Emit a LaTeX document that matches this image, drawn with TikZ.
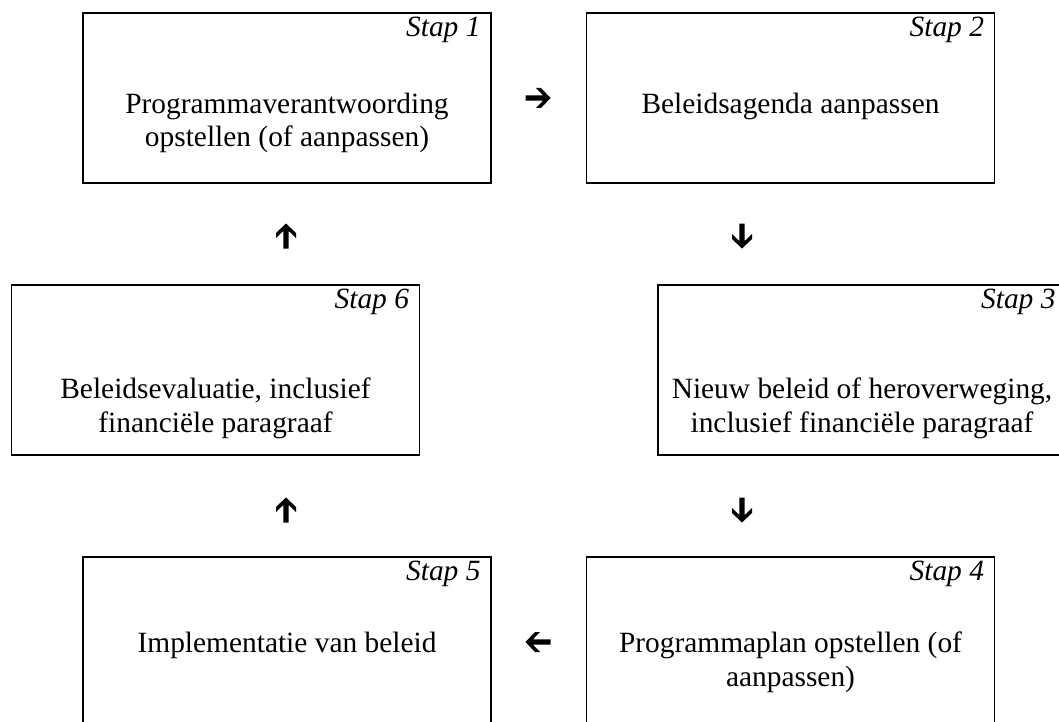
\documentclass[tikz,border=0pt]{standalone}
\usepackage{fontspec}
\setmainfont{Liberation Serif}
\begin{document}
\begin{tikzpicture}[x=0.5pt,y=-0.5pt,
  stepbox/.style={draw, line width=0.85pt, rectangle, minimum width=204pt, minimum height=85pt, inner sep=0pt},
  steplabel/.style={anchor=base east, inner sep=0pt, font=\fontsize{14.7}{17}\selectfont\itshape},
  maintext/.style={anchor=base, inner sep=0pt, font=\fontsize{14.7}{17}\selectfont},
  warrow/.pic={\fill (12.5,0) -- (3,10) -- (-2,10) -- (5,2.7) -- (-12.5,2.7) -- (-12.5,-2.7) -- (5,-2.7) -- (-2,-10) -- (3,-10) -- cycle;}
]
\useasboundingbox (0,0) rectangle (1059,722);
\clip (0,0) rectangle (1059,722);

% boxes
\node[stepbox] (s1) at (287,98) {};
\node[stepbox] (s2) at (790.5,98) {};
\node[stepbox] (s6) at (215.5,370) {};
\node[stepbox] (s3) at (862,370) {};
\node[stepbox] (s5) at (287,642) {};
\node[stepbox] (s4) at (790.5,642) {};

% step labels
\node[steplabel] (l1) at ([xshift=-5.5pt,yshift=-12pt]s1.north east) {Stap 1};
\node[steplabel] (l2) at ([xshift=-5.5pt,yshift=-12pt]s2.north east) {Stap 2};
\node[steplabel] (l6) at ([xshift=-5.5pt,yshift=-12pt]s6.north east) {Stap 6};
\node[steplabel] (l3) at ([xshift=-5.5pt,yshift=-12pt]s3.north east) {Stap 3};
\node[steplabel] (l5) at ([xshift=-5.5pt,yshift=-12pt]s5.north east) {Stap 5};
\node[steplabel] (l4) at ([xshift=-5.5pt,yshift=-12pt]s4.north east) {Stap 4};

% main texts
\node[maintext] (t1a) at (287,113) {Programmaverantwoording};
\node[maintext] (t1b) at (287,147) {opstellen (of aanpassen)};
\node[maintext] (t2a) at (790.5,113) {Beleidsagenda aanpassen};
\node[maintext] (t6a) at (215.5,398) {Beleidsevaluatie, inclusief};
\node[maintext] (t6b) at (215.5,432) {financiële paragraaf};
\node[maintext] (t3a) at (862,398) {Nieuw beleid of heroverweging,};
\node[maintext] (t3b) at (862,432) {inclusief financiële paragraaf};
\node[maintext] (t5a) at (287,652) {Implementatie van beleid};
\node[maintext] (t4a) at (790.5,652) {Programmaplan opstellen (of};
\node[maintext] (t4b) at (790.5,686) {aanpassen)};

% arrows
\pic at (538,98) {warrow};
\pic[rotate=-90] at (742,236) {warrow};
\pic[rotate=-90] at (742,510) {warrow};
\pic[rotate=180] at (538,642) {warrow};
\pic[rotate=90] at (286,510) {warrow};
\pic[rotate=90] at (286,236) {warrow};
\end{tikzpicture}
\end{document}
